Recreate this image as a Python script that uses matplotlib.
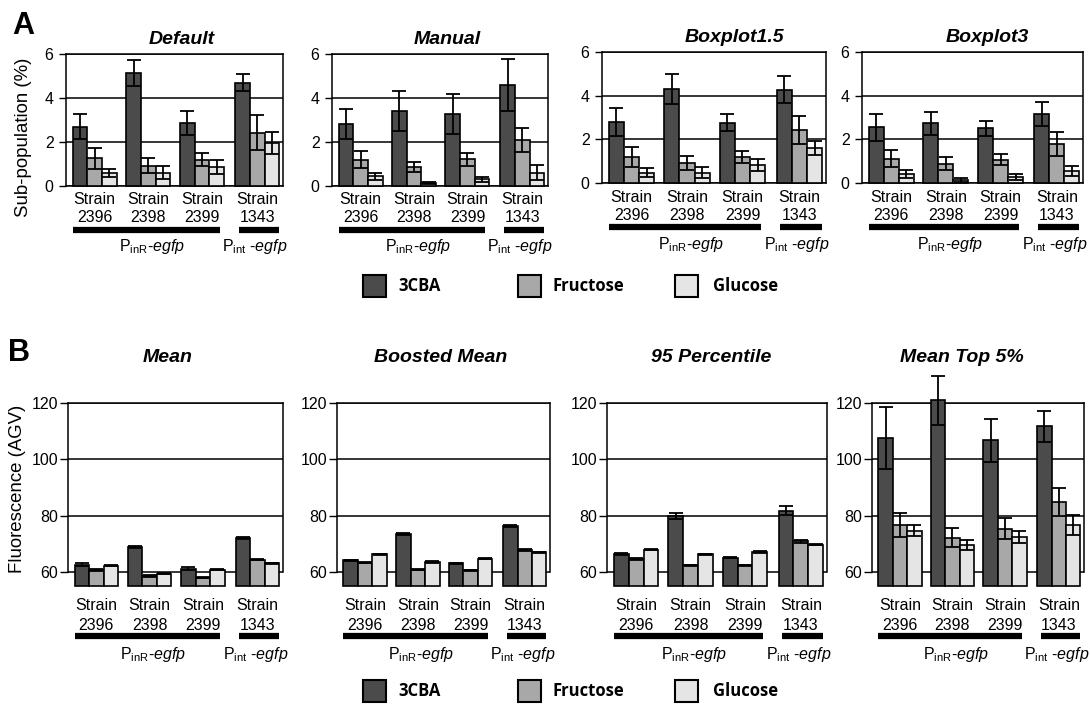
import matplotlib
matplotlib.use('Agg')
import matplotlib.pyplot as plt
import matplotlib.transforms as mtransforms
from matplotlib.patches import Rectangle

plt.rcParams['font.family'] = ['Liberation Sans', 'DejaVu Sans']
plt.rcParams['mathtext.fontset'] = 'custom'
plt.rcParams['mathtext.rm'] = 'Liberation Sans'
plt.rcParams['mathtext.it'] = 'Liberation Sans:italic'
plt.rcParams['mathtext.bf'] = 'Liberation Sans:bold'

strains = ['2396', '2398', '2399', '1343']
sugars = ['3CBA', 'Fructose', 'Glucose']
colors = ['#4b4b4b', '#a8a8a8', '#e5e5e5']

# panel A, sub-population (%): rows = 3CBA, Fructose, Glucose
default_val = [[2.70, 5.13, 2.85, 4.70], [1.25, 0.93, 1.20, 2.42], [0.59, 0.61, 0.87, 1.96]]
default_err = [[0.57, 0.60, 0.55, 0.40], [0.47, 0.33, 0.30, 0.79], [0.20, 0.29, 0.32, 0.50]]
manual_val = [[2.82, 3.41, 3.26, 4.60], [1.20, 0.87, 1.22, 2.09], [0.44, 0.14, 0.30, 0.61]]
manual_err = [[0.69, 0.89, 0.91, 1.19], [0.39, 0.23, 0.30, 0.55], [0.17, 0.06, 0.11, 0.34]]
box15_val = [[2.78, 4.30, 2.76, 4.27], [1.20, 0.92, 1.20, 2.42], [0.48, 0.48, 0.81, 1.61]]
box15_err = [[0.65, 0.67, 0.38, 0.61], [0.46, 0.32, 0.28, 0.65], [0.19, 0.25, 0.27, 0.32]]
box3_val = [[2.55, 2.73, 2.50, 3.16], [1.12, 0.89, 1.07, 1.78], [0.40, 0.12, 0.28, 0.55]]
box3_err = [[0.61, 0.52, 0.35, 0.54], [0.38, 0.31, 0.25, 0.54], [0.18, 0.09, 0.14, 0.23]]

# panel B, fluorescence (AGV)
mean_val = [[62.6, 68.9, 61.2, 72.1], [60.6, 58.5, 58.0, 64.4], [62.2, 59.4, 60.8, 63.0]]
mean_err = [[0.5, 0.4, 0.4, 0.4], [0.3, 0.3, 0.3, 0.3], [0.2, 0.2, 0.2, 0.3]]
boost_val = [[64.1, 73.5, 63.0, 76.2], [63.2, 60.8, 60.6, 67.9], [66.3, 63.6, 64.7, 66.9]]
boost_err = [[0.3, 0.5, 0.3, 0.4], [0.2, 0.2, 0.2, 0.3], [0.2, 0.3, 0.2, 0.2]]
p95_val = [[66.3, 79.9, 65.1, 81.7], [64.5, 62.4, 62.4, 70.9], [67.9, 66.2, 67.1, 69.7]]
p95_err = [[0.4, 1.0, 0.3, 1.6], [0.3, 0.2, 0.2, 0.5], [0.2, 0.3, 0.3, 0.3]]
top5_val = [[107.7, 121.0, 106.7, 111.7], [76.6, 72.1, 75.4, 84.9], [74.6, 69.5, 72.5, 76.6]]
top5_err = [[11.0, 8.7, 7.5, 5.4], [4.3, 3.4, 3.7, 4.9], [2.0, 1.8, 2.1, 3.6]]

W, H = 1090, 705
fig = plt.figure(figsize=(W / 100, H / 100), dpi=100)

centers = [1.95, 5.6, 9.25, 13.0]


def px_axes(l, r, t, b):
    return fig.add_axes([l / W, 1 - b / H, (r - l) / W, (b - t) / H])


def shift(trans, dx, dy):
    return trans + mtransforms.ScaledTranslation(dx / 100, -dy / 100, fig.dpi_scale_trans)


def draw(ax, vals, errs, title, tdx, tdy, panel):
    base = 0 if panel == 'A' else 55
    for i in range(3):
        xs = [c + (i - 1) for c in centers]
        hs = [v - base for v in vals[i]]
        ax.bar(xs, hs, width=1.0, bottom=base, color=colors[i],
               edgecolor='black', linewidth=1.2, zorder=3, clip_on=False)
        eb = ax.errorbar(xs, vals[i], yerr=errs[i], fmt='none', ecolor='black',
                         elinewidth=1.3, capsize=5, capthick=1.3, zorder=4)
        for art in eb.lines[1] + eb.lines[2]:
            art.set_clip_on(False)
    if panel == 'A':
        ax.set_ylim(0, 6)
        ax.set_yticks([0, 2, 4, 6])
        ax.tick_params(axis='y', length=5, width=1, pad=4, labelsize=11.5)
        gap = (14, 32, 44, 61)
    else:
        ax.set_ylim(55, 120)
        ax.set_yticks([60, 80, 100, 120])
        ax.spines['bottom'].set_visible(False)
        ax.spines['left'].set_bounds(60, 120)
        ax.spines['right'].set_bounds(60, 120)
        ax.tick_params(axis='y', length=6, width=1, pad=1, labelsize=11.5)
        gap = (19, 39, 50, 69)
    ax.set_xlim(0, 14.75)
    ax.set_xticks([])
    ax.yaxis.grid(True, color='black', linewidth=1.1)
    ax.set_axisbelow(True)
    for sp in ax.spines.values():
        sp.set_linewidth(1.1)

    bt = mtransforms.blended_transform_factory(ax.transData, ax.transAxes)
    for c, s in zip(centers, strains):
        ax.text(c, 0, 'Strain', transform=shift(bt, 0, gap[0]), ha='center', va='center',
                fontsize=11.5, clip_on=False)
        ax.text(c, 0, s, transform=shift(bt, 0, gap[1]), ha='center', va='center',
                fontsize=11.5, clip_on=False)
    ax.plot([centers[0] - 1.5, centers[2] + 1.2], [0, 0], color='black', lw=4.5,
            solid_capstyle='butt', transform=shift(bt, 0, gap[2]), clip_on=False)
    ax.plot([centers[3] - 1.25, centers[3] + 1.5], [0, 0], color='black', lw=4.5,
            solid_capstyle='butt', transform=shift(bt, 0, gap[2]), clip_on=False)
    mid = (centers[0] - 1.5 + centers[2] + 1.2) / 2 + 0.4
    ax.text(mid, 0, r'P$_{\mathrm{inR}}$-$\mathit{egfp}$', transform=shift(bt, 0, gap[3]),
            ha='center', va='center', fontsize=11.5, clip_on=False)
    ax.text(centers[3] - 0.15, 0, r'P$_{\mathrm{int}}$ -$\mathit{egfp}$',
            transform=shift(bt, 0, gap[3]), ha='center', va='center', fontsize=11.5,
            clip_on=False)
    ax.text(0.5, 1, title, transform=shift(ax.transAxes, tdx, -tdy), ha='center',
            va='baseline', fontsize=14, fontweight='bold', fontstyle='italic')


axA = [px_axes(66, 283, 54, 186), px_axes(332, 548, 54, 186),
       px_axes(602, 826, 52, 183), px_axes(862, 1083, 52, 183)]
axB = [px_axes(68, 283, 403, 586), px_axes(337, 550, 403, 586),
       px_axes(607, 827, 403, 586), px_axes(872, 1084, 403, 586)]

draw(axA[0], default_val, default_err, 'Default', 7, 10, 'A')
draw(axA[1], manual_val, manual_err, 'Manual', 7, 10, 'A')
draw(axA[2], box15_val, box15_err, 'Boxplot1.5', 20, 10, 'A')
draw(axA[3], box3_val, box3_err, 'Boxplot3', 15, 10, 'A')
draw(axB[0], mean_val, mean_err, 'Mean', -8, 41, 'B')
draw(axB[1], boost_val, boost_err, 'Boosted Mean', -3, 41, 'B')
draw(axB[2], p95_val, p95_err, '95 Percentile', -6, 41, 'B')
draw(axB[3], top5_val, top5_err, 'Mean Top 5%', -16, 41, 'B')

fig.text(24 / W, 1 - 137 / H, 'Sub-population (%)', rotation=90, ha='center',
         va='center', fontsize=13.4)
fig.text(18 / W, 1 - 489 / H, 'Fluorescence (AGV)', rotation=90, ha='center',
         va='center', fontsize=13.4)
fig.text(23 / W, 1 - 26 / H, 'A', ha='center', va='center', fontsize=22, fontweight='bold')
fig.text(19 / W, 1 - 353 / H, 'B', ha='center', va='center', fontsize=22, fontweight='bold')

# legends
for ytop in (275, 680):
    for i, (px, tx) in enumerate(zip([363, 518, 675], [398, 553, 713])):
        fig.add_artist(Rectangle((px / W, 1 - (ytop + 22) / H), 23 / W, 22 / H,
                                 transform=fig.transFigure, facecolor=colors[i],
                                 edgecolor='black', linewidth=1.5))
        fig.text(tx / W, 1 - (ytop + 11) / H, sugars[i], ha='left', va='center',
                 fontsize=12, fontweight='bold', family=['Open Sans', 'DejaVu Sans'])

fig.savefig('out.png', dpi=100)
